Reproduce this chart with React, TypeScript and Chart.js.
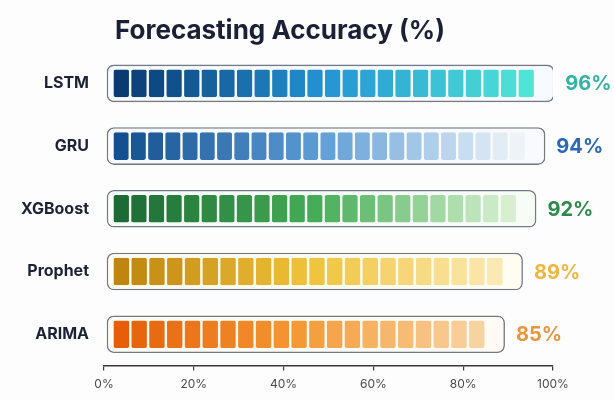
import React, { useEffect, useRef } from 'react';
import { Chart, registerables } from 'chart.js';

Chart.register(...registerables);

// ---- data ----
const MODELS = ['LSTM', 'GRU', 'XGBoost', 'Prophet', 'ARIMA'];
const ACCURACY = [96, 94, 92, 89, 85];
const AXIS_TICKS = [0, 20, 40, 60, 80, 100];
const CELL_SIZE = 4; // percentage points represented by one segment

// ---- styling ----
const RAMPS = [
  ['#0b3a72', '#2393d3', '#4fe4d6'],
  ['#14508f', '#5d9dd6', '#eef3f8'],
  ['#1c6b33', '#45ad57', '#d6f0cf'],
  ['#bf850f', '#f0c23a', '#fbe9b3'],
  ['#e65f08', '#f49a35', '#f8d3a2'],
];
const LABEL_COLORS = ['#33b3a5', '#2a69b6', '#2e8a4b', '#f2b63e', '#e8963f'];
const TRACK_FILLS = ['#f7fbff', '#f8fafd', '#f8fcf7', '#fffcf1', '#fffaf3'];
const TRACK_START = 0.6; // track begins slightly right of zero (axis units)
const TRACK_TAIL = 4.3; // empty room after the last segment (axis units)
const CELL_START = 1.9; // inner padding before the first segment (axis units)
const FONT = 'Inter, "Open Sans", "DejaVu Sans", sans-serif';

function hexToRgb(h: string): number[] {
  const n = parseInt(h.slice(1), 16);
  return [(n >> 16) & 255, (n >> 8) & 255, n & 255];
}

function rampColor(stops: string[], t: number): string {
  const seg = t <= 0.5 ? 0 : 1;
  const lt = seg === 0 ? t / 0.5 : (t - 0.5) / 0.5;
  const a = hexToRgb(stops[seg]);
  const b = hexToRgb(stops[seg + 1]);
  const c = a.map((v, i) => Math.round(v + (b[i] - v) * lt));
  return `rgb(${c[0]},${c[1]},${c[2]})`;
}

const cellCounts = ACCURACY.map((v) => Math.round(v / CELL_SIZE));
const maxCells = Math.max(...cellCounts);

function buildDatasets() {
  const track = {
    label: 'track',
    data: ACCURACY.map((v) => [TRACK_START, v + TRACK_TAIL]),
    backgroundColor: TRACK_FILLS,
    borderColor: '#737a86',
    borderWidth: 1.6,
    borderRadius: 7,
    borderSkipped: false,
    barPercentage: 0.6,
    categoryPercentage: 1,
    grouped: false,
    order: 1,
  };
  const cells = [];
  for (let k = 0; k < maxCells; k++) {
    cells.push({
      label: 'cell' + k,
      data: ACCURACY.map((v, i) => {
        const n = cellCounts[i];
        if (k >= n) return null;
        const w = (v - CELL_START) / n;
        return [CELL_START + k * w, CELL_START + (k + 1) * w];
      }),
      backgroundColor: ACCURACY.map((_, i) =>
        rampColor(RAMPS[i], cellCounts[i] > 1 ? k / (cellCounts[i] - 1) : 0)
      ),
      borderColor: 'rgba(255,255,255,0)',
      borderWidth: { left: 1.2, right: 1.2, top: 0, bottom: 0 },
      borderRadius: 3,
      borderSkipped: false,
      barPercentage: 0.44,
      categoryPercentage: 1,
      grouped: false,
      order: 0,
    });
  }
  return [track, ...cells];
}

const backgroundPlugin = {
  id: 'pageBackground',
  beforeDraw(chart: any) {
    const { ctx, width, height } = chart;
    ctx.save();
    ctx.fillStyle = '#fdfdfd';
    ctx.fillRect(0, 0, width, height);
    ctx.restore();
  },
};

const titlePlugin = {
  id: 'heading',
  afterDraw(chart: any) {
    const { ctx } = chart;
    ctx.save();
    ctx.font = `700 26px ${FONT}`;
    ctx.fillStyle = '#1a2136';
    ctx.textAlign = 'center';
    ctx.textBaseline = 'alphabetic';
    ctx.fillText('Forecasting Accuracy (%)', 280, 39);
    ctx.restore();
  },
};

const valueLabelPlugin = {
  id: 'valueLabels',
  afterDatasetsDraw(chart: any) {
    const { ctx } = chart;
    const meta = chart.getDatasetMeta(0);
    ctx.save();
    ctx.font = `700 20px ${FONT}`;
    ctx.textAlign = 'left';
    ctx.textBaseline = 'middle';
    meta.data.forEach((bar: any, i: number) => {
      ctx.fillStyle = LABEL_COLORS[i];
      ctx.fillText(`${ACCURACY[i]}%`, bar.x + 11, bar.y + 1);
    });
    ctx.restore();
  },
};

export default function App() {
  const canvasRef = useRef<HTMLCanvasElement | null>(null);

  useEffect(() => {
    const canvas = canvasRef.current;
    if (!canvas) return;
    const chart = new Chart(canvas, {
      type: 'bar',
      data: { labels: MODELS, datasets: buildDatasets() as any },
      options: {
        indexAxis: 'y',
        responsive: false,
        animation: false,
        layout: { padding: { top: 52, right: 61, bottom: 1, left: 0 } },
        plugins: {
          legend: { display: false },
          tooltip: { enabled: false },
          title: { display: false },
        },
        scales: {
          x: {
            type: 'linear',
            min: 0,
            max: 100,
            afterBuildTicks: (scale: any) => {
              scale.ticks = AXIS_TICKS.map((v) => ({ value: v }));
            },
            ticks: {
              callback: (v: any) => `${v}%`,
              color: '#4a4a4a',
              font: { family: FONT, size: 12 },
              padding: 7,
            },
            grid: {
              display: true,
              drawOnChartArea: false,
              drawTicks: true,
              tickLength: 5,
              color: '#3a3a3a',
              lineWidth: 1.2,
            },
            border: { display: true, color: '#3a3a3a', width: 1.5 },
          },
          y: {
            afterFit: (scale: any) => {
              scale.width = 104;
            },
            ticks: {
              color: '#1c2236',
              font: { family: FONT, size: 16, weight: 'bold' },
              padding: 15,
            },
            grid: { display: false, drawTicks: false },
            border: { display: false },
          },
        },
      },
      plugins: [backgroundPlugin, titlePlugin, valueLabelPlugin],
    });
    return () => chart.destroy();
  }, []);

  return (
    <div style={{ position: 'absolute', left: 0, top: 0, width: 614, height: 400 }}>
      <canvas ref={canvasRef} width={614} height={400} style={{ display: 'block' }} />
    </div>
  );
}
